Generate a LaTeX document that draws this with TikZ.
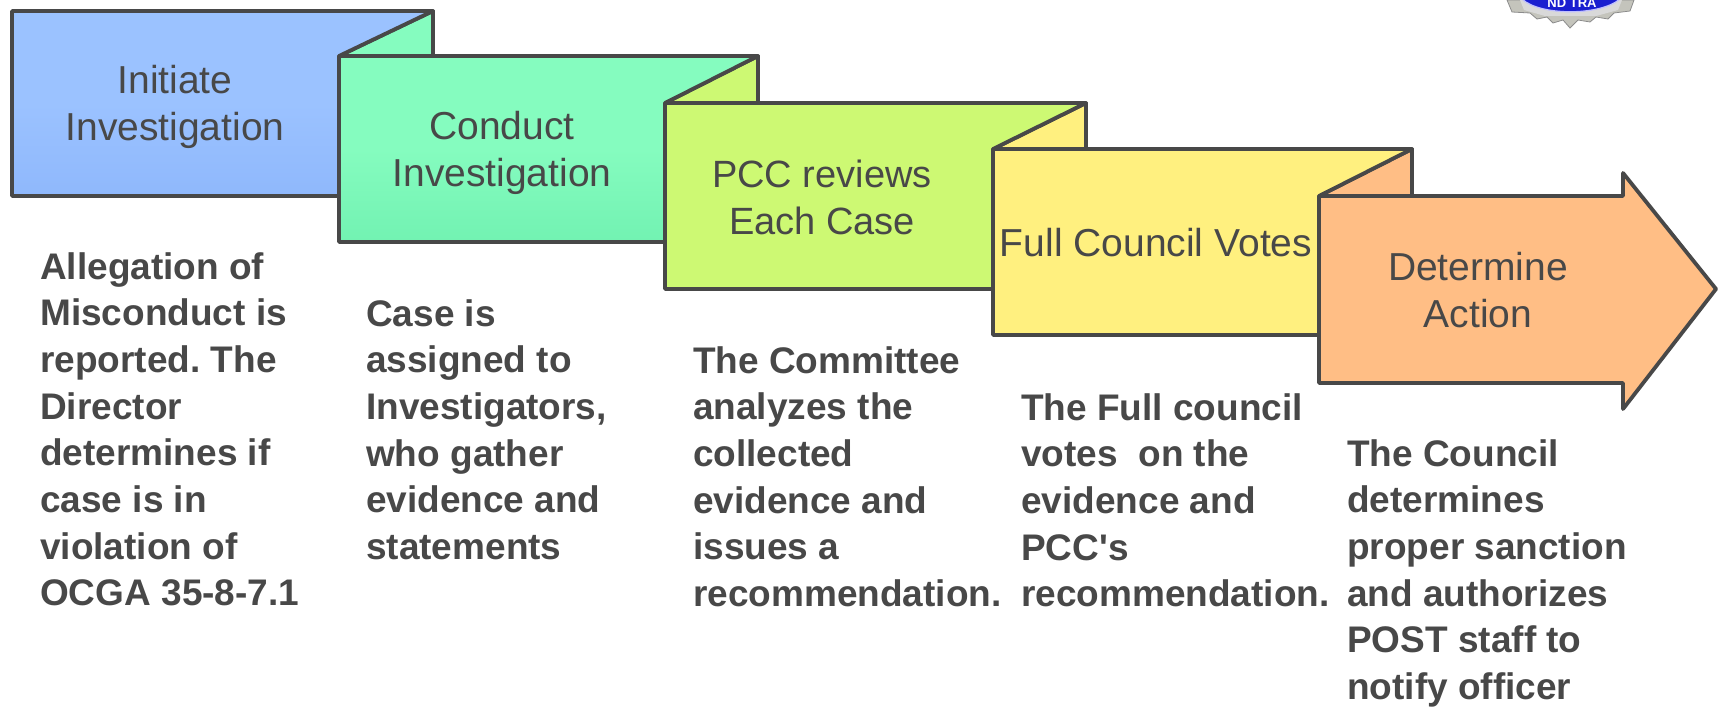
\documentclass[tikz,border=0pt]{standalone}
\usepackage{fontspec}
\setmainfont{Liberation Sans}
\newfontfamily\plainsans{Liberation Sans}
\definecolor{ink}{HTML}{484848}
\definecolor{bluef}{HTML}{9BC2FF}
\definecolor{blued}{HTML}{8FB8FC}
\definecolor{greenf}{HTML}{85FCBF}
\definecolor{greend}{HTML}{72F2B2}
\definecolor{limef}{HTML}{CDF973}
\definecolor{yellowf}{HTML}{FFF07F}
\definecolor{orangef}{HTML}{FFBE85}
\definecolor{logoblue}{HTML}{1A1FD0}
\definecolor{logogear}{HTML}{C4C4BC}
\tikzset{
  panel/.style={draw=ink,line width=3.8pt,line join=round},
  steptitle/.style={font=\fontsize{39}{47}\selectfont,text=ink,align=center,inner sep=0pt,anchor=center},
  stepnote/.style={font=\plainsans\fontsize{37}{46.7}\selectfont\bfseries,text=ink,align=left,inner sep=0pt,anchor=north west},
}
\frenchspacing
\begin{document}
\begin{tikzpicture}[x=1pt,y=-1pt]
\useasboundingbox (0,0) rectangle (1718,708);
\fill[white] (0,0) rectangle (1718,708);
% logo, cut by the top edge
\begin{scope}
\clip (0,0) rectangle (1718,40);
\fill[logogear,draw=black!45,line width=.8pt] (1507,0) -- (1512,12) -- (1530,13) -- (1537,19) -- (1547,17) -- (1553,23) -- (1563,20) -- (1570,28) -- (1578,20) -- (1590,22) -- (1596,17) -- (1608,19) -- (1614,13) -- (1630,11) -- (1634,0) -- cycle;
\fill[white!85!black] (1520,0) -- (1524,10) -- (1545,16) -- (1596,16) -- (1618,10) -- (1622,0) -- cycle;
\fill[logoblue,draw=blue!25!white,line width=1.2pt] (1522,-1) .. controls (1540,16) and (1600,16) .. (1620,-1) -- cycle;
\node[font=\fontsize{13}{13}\selectfont\bfseries,text=white,inner sep=0pt] (logotext) at (1572,3) {ND TRA};
\end{scope}
% step 1
\fill[panel,fill=greenf] (339,56) -- (433,11) -- (433,56) -- cycle;
\path[panel,top color=bluef,bottom color=blued,middle color=bluef] (12,11) -- (433,11) -- (339,56) -- (339,196) -- (12,196) -- cycle;
% step 2
\fill[panel,fill=limef] (665,103) -- (758,56) -- (758,103) -- cycle;
\path[panel,top color=greenf,bottom color=greend,middle color=greenf] (339,56) -- (758,56) -- (665,103) -- (665,242) -- (339,242) -- cycle;
% step 3
\fill[panel,fill=yellowf] (993,149) -- (1086,103) -- (1086,149) -- cycle;
\fill[panel,fill=limef] (665,103) -- (1086,103) -- (993,149) -- (993,289) -- (665,289) -- cycle;
% step 4
\fill[panel,fill=orangef] (1319,196) -- (1412,149) -- (1412,196) -- cycle;
\fill[panel,fill=yellowf] (993,149) -- (1412,149) -- (1319,196) -- (1319,335) -- (993,335) -- cycle;
% step 5
\fill[panel,fill=orangef] (1319,196) -- (1623,196) -- (1623,173) -- (1716,289) -- (1623,409) -- (1623,383) -- (1319,383) -- cycle;
% titles
\node[steptitle] (t1) at (175,107) {Initiate\\Investigation};
\node[steptitle] (t2) at (502,153) {Conduct\\Investigation};
\node[steptitle,font=\fontsize{38}{47}\selectfont] (t3) at (822,197) {PCC reviews\\Each Case};
\node[steptitle] (t4) at (1156,243) {Full Council Votes};
\node[steptitle] (t5) at (1478,290) {Determine\\Action};
% notes
\node[stepnote] (n1) at (40,252) {Allegation of\\Misconduct is\\reported. The\\Director\\determines if\\case is in\\violation of\\OCGA 35-8-7.1};
\node[stepnote] (n2) at (366,299) {Case is\\assigned to\\Investigators,\\who gather\\evidence and\\statements};
\node[stepnote] (n3) at (693,346) {The Committee\\analyzes the\\collected\\evidence and\\issues a\\recommendation.};
\node[stepnote] (n4) at (1021,393) {The Full council\\votes\ \ on the\\evidence and\\PCC's\\recommendation.};
\node[stepnote] (n5) at (1347,439) {The Council\\determines\\proper sanction\\and authorizes\\POST staff to\\notify officer};
\end{tikzpicture}
\end{document}
